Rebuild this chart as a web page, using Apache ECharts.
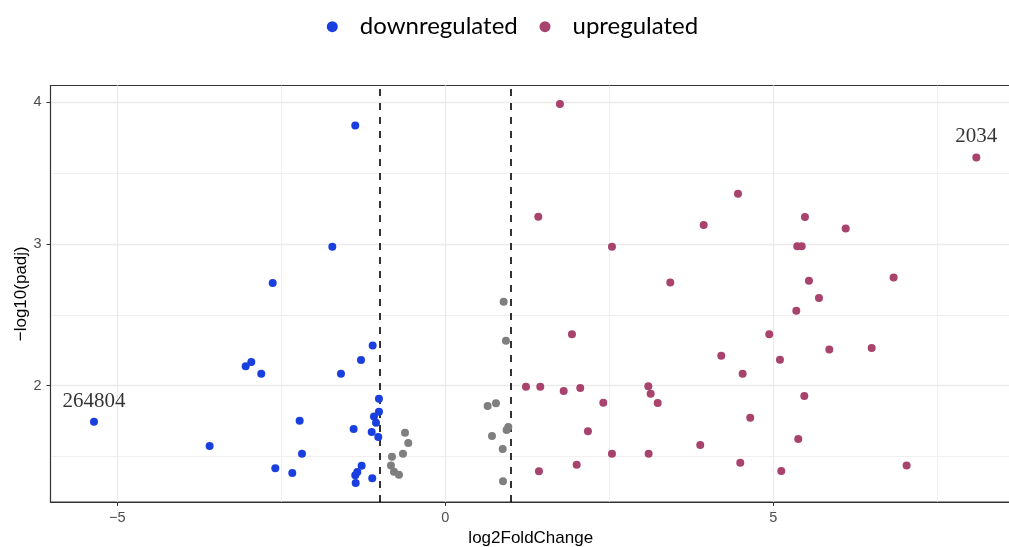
<!DOCTYPE html>
<html>
<head>
<meta charset="utf-8">
<script src="https://cdn.jsdelivr.net/npm/echarts@6/dist/echarts.min.js"></script>
<style>html,body{margin:0;padding:0;background:#fff;}#c{width:1009px;height:547px;}</style>
</head>
<body>
<div id="c"></div>
<script>
// ---- data ----
const downX = [-5.355,-3.592,-3.043,-2.957,-2.805,-2.631,-2.591,-2.332,-2.220,-2.184,-1.722,-1.590,-1.397,-1.372,-1.285,-1.275,-1.341,-1.372,-1.366,-1.122,-1.113,-1.107,-1.011,-1.011,-1.087,-1.056,-1.021];
const downY = [1.746,1.575,2.137,2.167,2.085,2.723,1.418,1.385,1.754,1.521,2.979,2.085,1.695,3.834,2.181,1.437,1.392,1.369,1.315,1.674,1.348,2.284,1.908,1.817,1.784,1.739,1.639];
const upX = [1.748,1.418,2.541,3.430,1.931,1.230,1.448,1.805,2.058,3.095,3.131,3.238,2.409,2.175,2.541,3.100,2.003,1.428,8.095,4.462,3.939,5.483,6.104,5.366,5.433,5.544,6.835,5.697,5.351,4.939,4.207,5.102,5.854,6.500,4.533,5.473,4.649,3.887,5.381,4.497,5.122,7.033];
const upY = [3.984,3.190,2.979,2.728,2.362,1.993,1.993,1.963,1.984,1.996,1.944,1.878,1.880,1.679,1.521,1.521,1.444,1.397,3.608,3.352,3.132,3.188,3.108,2.982,2.982,2.739,2.763,2.618,2.528,2.362,2.211,2.183,2.256,2.265,2.085,1.927,1.775,1.582,1.625,1.458,1.399,1.439];
const nsX = [-0.614,-0.564,-0.645,-0.813,-0.828,-0.782,-0.706,0.646,0.773,0.925,0.890,0.961,0.935,0.712,0.875,0.880];
const nsY = [1.669,1.596,1.521,1.500,1.439,1.394,1.373,1.857,1.876,2.317,2.592,1.709,1.688,1.646,1.554,1.327];
const labelText = ['264804','2034'];
const labelX = [-5.355, 8.095];
const labelY = [1.746, 3.608];
const xTicks = [-5, 0, 5];
const yTicks = [2, 3, 4];
const xMinor = [-2.5, 2.5, 7.5];
const yMinor = [1.5, 2.5, 3.5];
const vCut = [-1, 1];
const xRange = [-6.018, 8.624];
const yRange = [1.181, 4.115];
const legendNames = ['downregulated', 'upregulated'];

const zip = (a, b) => a.map((v, i) => [v, b[i]]);
const gridCol = '#ebebeb';
const legendCommon = {
  top: 14.7, padding: 0, icon: 'circle', itemWidth: 45, itemHeight: 11, itemGap: 0,
  textStyle: { fontFamily: 'Lato', fontSize: 24, color: '#000' }
};

const option = {
  animation: false,
  backgroundColor: '#fff',
  legend: [
    Object.assign({}, legendCommon, { data: [legendNames[0]], left: 326.8 }),
    Object.assign({}, legendCommon, { data: [legendNames[1]], left: 539.5 })
  ],
  grid: { left: 50.5, right: -2, top: 85.5, bottom: 45, outerBoundsMode: 'none', containLabel: false,
    show: true, borderColor: '#333', borderWidth: 1.1, backgroundColor: 'transparent' },
  xAxis: {
    type: 'value', min: xRange[0], max: xRange[1],
    name: 'log2FoldChange', nameLocation: 'middle', nameGap: 28, nameMoveOverlap: false,
    nameTextStyle: { fontFamily: 'Liberation Sans', fontSize: 17, color: '#000' },
    axisLine: { show: true, onZero: false, lineStyle: { color: '#333', width: 1.1 } },
    axisTick: { show: true, length: 4, lineStyle: { color: '#333' }, customValues: xTicks },
    axisLabel: { customValues: xTicks, margin: 8, fontFamily: 'Liberation Sans', fontSize: 14.5, color: '#4d4d4d',
      formatter: v => String(v).replace('-', '\u2212') },
    splitLine: { show: false }
  },
  yAxis: {
    type: 'value', min: yRange[0], max: yRange[1],
    name: '\u2212log10(padj)', nameLocation: 'middle', nameGap: 21, nameMoveOverlap: false,
    nameTextStyle: { fontFamily: 'Liberation Sans', fontSize: 17, color: '#000' },
    axisLine: { show: true, onZero: false, lineStyle: { color: '#333', width: 1.1 } },
    axisTick: { show: true, length: 4, lineStyle: { color: '#333' }, customValues: yTicks },
    axisLabel: { customValues: yTicks, margin: 9, fontFamily: 'Liberation Sans', fontSize: 14.5, color: '#4d4d4d' },
    splitLine: { show: false }
  },
  series: [
    {
      name: 'grid', type: 'scatter', data: [], z: 0, silent: true,
      markLine: {
        z: 0, silent: true, symbol: 'none', label: { show: false }, animation: false,
        data: [
          ...xMinor.map(v => ({ xAxis: v, lineStyle: { color: gridCol, width: 0.8, type: 'solid' } })),
          ...yMinor.map(v => ({ yAxis: v, lineStyle: { color: gridCol, width: 0.8, type: 'solid' } })),
          ...xTicks.map(v => ({ xAxis: v, lineStyle: { color: gridCol, width: 1.3, type: 'solid' } })),
          ...yTicks.map(v => ({ yAxis: v, lineStyle: { color: gridCol, width: 1.3, type: 'solid' } }))
        ]
      }
    },
    {
      name: 'cut', type: 'scatter', data: [], z: 1, silent: true,
      markLine: {
        z: 1, silent: true, symbol: 'none', label: { show: false }, animation: false,
        lineStyle: { color: '#000', width: 1.6, type: [7, 7] },
        data: vCut.map(v => ({ xAxis: v }))
      }
    },
    {
      name: 'ns', type: 'scatter', data: zip(nsX, nsY), symbolSize: 8, z: 3,
      itemStyle: { color: '#7f7f7f', opacity: 1 }
    },
    {
      name: legendNames[0], type: 'scatter', data: zip(downX, downY), symbolSize: 8, z: 3,
      itemStyle: { color: '#1a3fdf', opacity: 1 }
    },
    {
      name: legendNames[1], type: 'scatter', data: zip(upX, upY), symbolSize: 8, z: 3,
      itemStyle: { color: '#a8436e', opacity: 1 }
    },
    {
      name: 'labels', type: 'scatter', symbolSize: 0, z: 4, silent: true,
      data: labelX.map((x, i) => ({ value: [x, labelY[i]], name: labelText[i] })),
      label: { show: true, position: 'top', distance: 10, formatter: p => p.name,
        fontFamily: 'Liberation Serif', fontSize: 21, color: '#000' }
    }
  ]
};
const chart = echarts.init(document.getElementById('c'), null, { renderer: 'canvas' });
chart.setOption(option);
</script>
</body>
</html>
